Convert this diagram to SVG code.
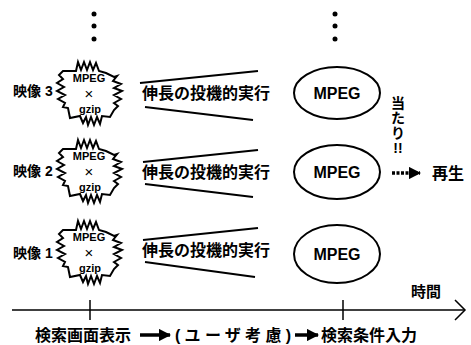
<svg xmlns="http://www.w3.org/2000/svg" width="471" height="345" viewBox="0 0 471 345">
<style>
text{font-family:"Liberation Sans","Noto Sans CJK JP",sans-serif;font-weight:bold;fill:#000}
.lbl{font-size:14px}
.jp{font-size:16px}
.st{font-size:11px;text-anchor:middle}
.x{font-size:15px;font-weight:normal;text-anchor:middle}
.mp{font-size:16px;text-anchor:middle}
.v{font-size:14px;text-anchor:middle}
.ln{stroke:#000;stroke-width:2;fill:none}
.star{stroke:#000;stroke-width:2;fill:#fff;stroke-linejoin:miter}
</style>
<defs>
<path id="starp" d="M-27,-22 L-14,-22 L-12,-31 L-9,-23 L-6,-31 L-3,-23 L0,-31 L3,-23 L6,-30 L9,-22 L16,-20 L24,-16 L27,-17 L23,-12 L31,-9 L24,-5 L32,-2 L24,2 L31,6 L24,10 L28,13 L24,17 L20,24 L12,23 L10,31 L7,24 L4,32 L1,24 L-2,32 L-4,24 L-7,30 L-10,23 L-20,25 L-22,15 L-27,14 L-25,10 L-32,6 L-25,2 L-33,-2 L-26,-6 L-33,-10 L-27,-14 L-31,-18 Z"/>
<marker id="ah" viewBox="0 0 10 10" refX="9" refY="5" markerWidth="3.5" markerHeight="3.5" orient="auto" markerUnits="strokeWidth"><path d="M0,0 L10,5 L0,10 Z" fill="#000"/></marker>
</defs>
<g id="dots-left" fill="#000"><circle cx="94" cy="14" r="2.5"/><circle cx="94" cy="26" r="2.5"/><circle cx="94" cy="39" r="2.5"/></g>
<g id="dots-right" fill="#000"><circle cx="335" cy="14" r="2.5"/><circle cx="335" cy="26" r="2.5"/><circle cx="335" cy="39" r="2.5"/></g>

<g id="video3">
<text class="lbl" x="13" y="96">映像 3</text>
<use href="#starp" class="star" transform="translate(90,93)"/>
<text class="st" x="89" y="82">MPEG</text><text class="x" x="89" y="99">×</text><text class="st" x="90" y="113">gzip</text>
</g>
<g id="video2">
<text class="lbl" x="13" y="176">映像 2</text>
<use href="#starp" class="star" transform="translate(90,171)"/>
<text class="st" x="89" y="160">MPEG</text><text class="x" x="89" y="177">×</text><text class="st" x="90" y="191">gzip</text>
</g>
<g id="video1">
<text class="lbl" x="13" y="258">映像 1</text>
<use href="#starp" class="star" transform="translate(90,252)"/>
<text class="st" x="89" y="241">MPEG</text><text class="x" x="89" y="258">×</text><text class="st" x="90" y="272">gzip</text>
</g>

<g id="exec3"><text class="jp" x="142" y="99">伸長の投機的実行</text></g>
<g id="exec2"><text class="jp" x="142" y="178">伸長の投機的実行</text></g>
<g id="exec1"><text class="jp" x="142" y="256">伸長の投機的実行</text></g>

<g id="mpeg3"><ellipse cx="337" cy="93" rx="43" ry="26" class="ln"/><text class="mp" x="337" y="99">MPEG</text></g>
<g id="mpeg2"><ellipse cx="337" cy="172" rx="43" ry="27" class="ln"/><text class="mp" x="337" y="178">MPEG</text></g>
<g id="mpeg1"><ellipse cx="337" cy="254" rx="43" ry="29" class="ln"/><text class="mp" x="337" y="260">MPEG</text></g>

<g id="hit">
<text class="v" x="398" y="108">当</text>
<text class="v" x="398" y="123">た</text>
<text class="v" x="398" y="138">り</text>
<text class="v" x="398" y="153">!!</text>
</g>
<g id="play"><text class="jp" x="432" y="179">再生</text></g>
<g id="time-label"><text style="font-size:15px" x="411" y="297">時間</text></g>
<g id="step1"><text class="jp" x="35" y="341">検索画面表示</text></g>
<g id="step2"><text class="jp" x="175" y="341" textLength="116" lengthAdjust="spacing">(ユーザ考慮)</text></g>
<g id="step3"><text class="jp" x="321" y="341">検索条件入力</text></g>

<g id="connectors">
<line x1="140" y1="83" x2="258" y2="71" class="ln"/>
<line x1="145" y1="107" x2="253" y2="120" class="ln"/>
<line x1="143" y1="162" x2="258" y2="150" class="ln"/>
<line x1="145" y1="184" x2="253" y2="197" class="ln"/>
<line x1="143" y1="240" x2="258" y2="228" class="ln"/>
<line x1="145" y1="262" x2="255" y2="277" class="ln"/>
<line x1="392" y1="173" x2="420" y2="173" stroke="#000" stroke-width="3.5" stroke-dasharray="3,1.5" marker-end="url(#ah)"/>
<line x1="12" y1="310" x2="465" y2="310" stroke="#000" stroke-width="1.5"/>
<path d="M455,300 L465,310 L455,320" stroke="#000" stroke-width="1.5" fill="none"/>
<line x1="90" y1="300" x2="90" y2="320" stroke="#000" stroke-width="1.5"/>
<line x1="343" y1="300" x2="343" y2="320" stroke="#000" stroke-width="1.5"/>
<line x1="140" y1="335" x2="170" y2="335" stroke="#000" stroke-width="3.5" marker-end="url(#ah)"/>
<line x1="295" y1="335" x2="318" y2="335" stroke="#000" stroke-width="3.5" marker-end="url(#ah)"/>
</g>
</svg>
